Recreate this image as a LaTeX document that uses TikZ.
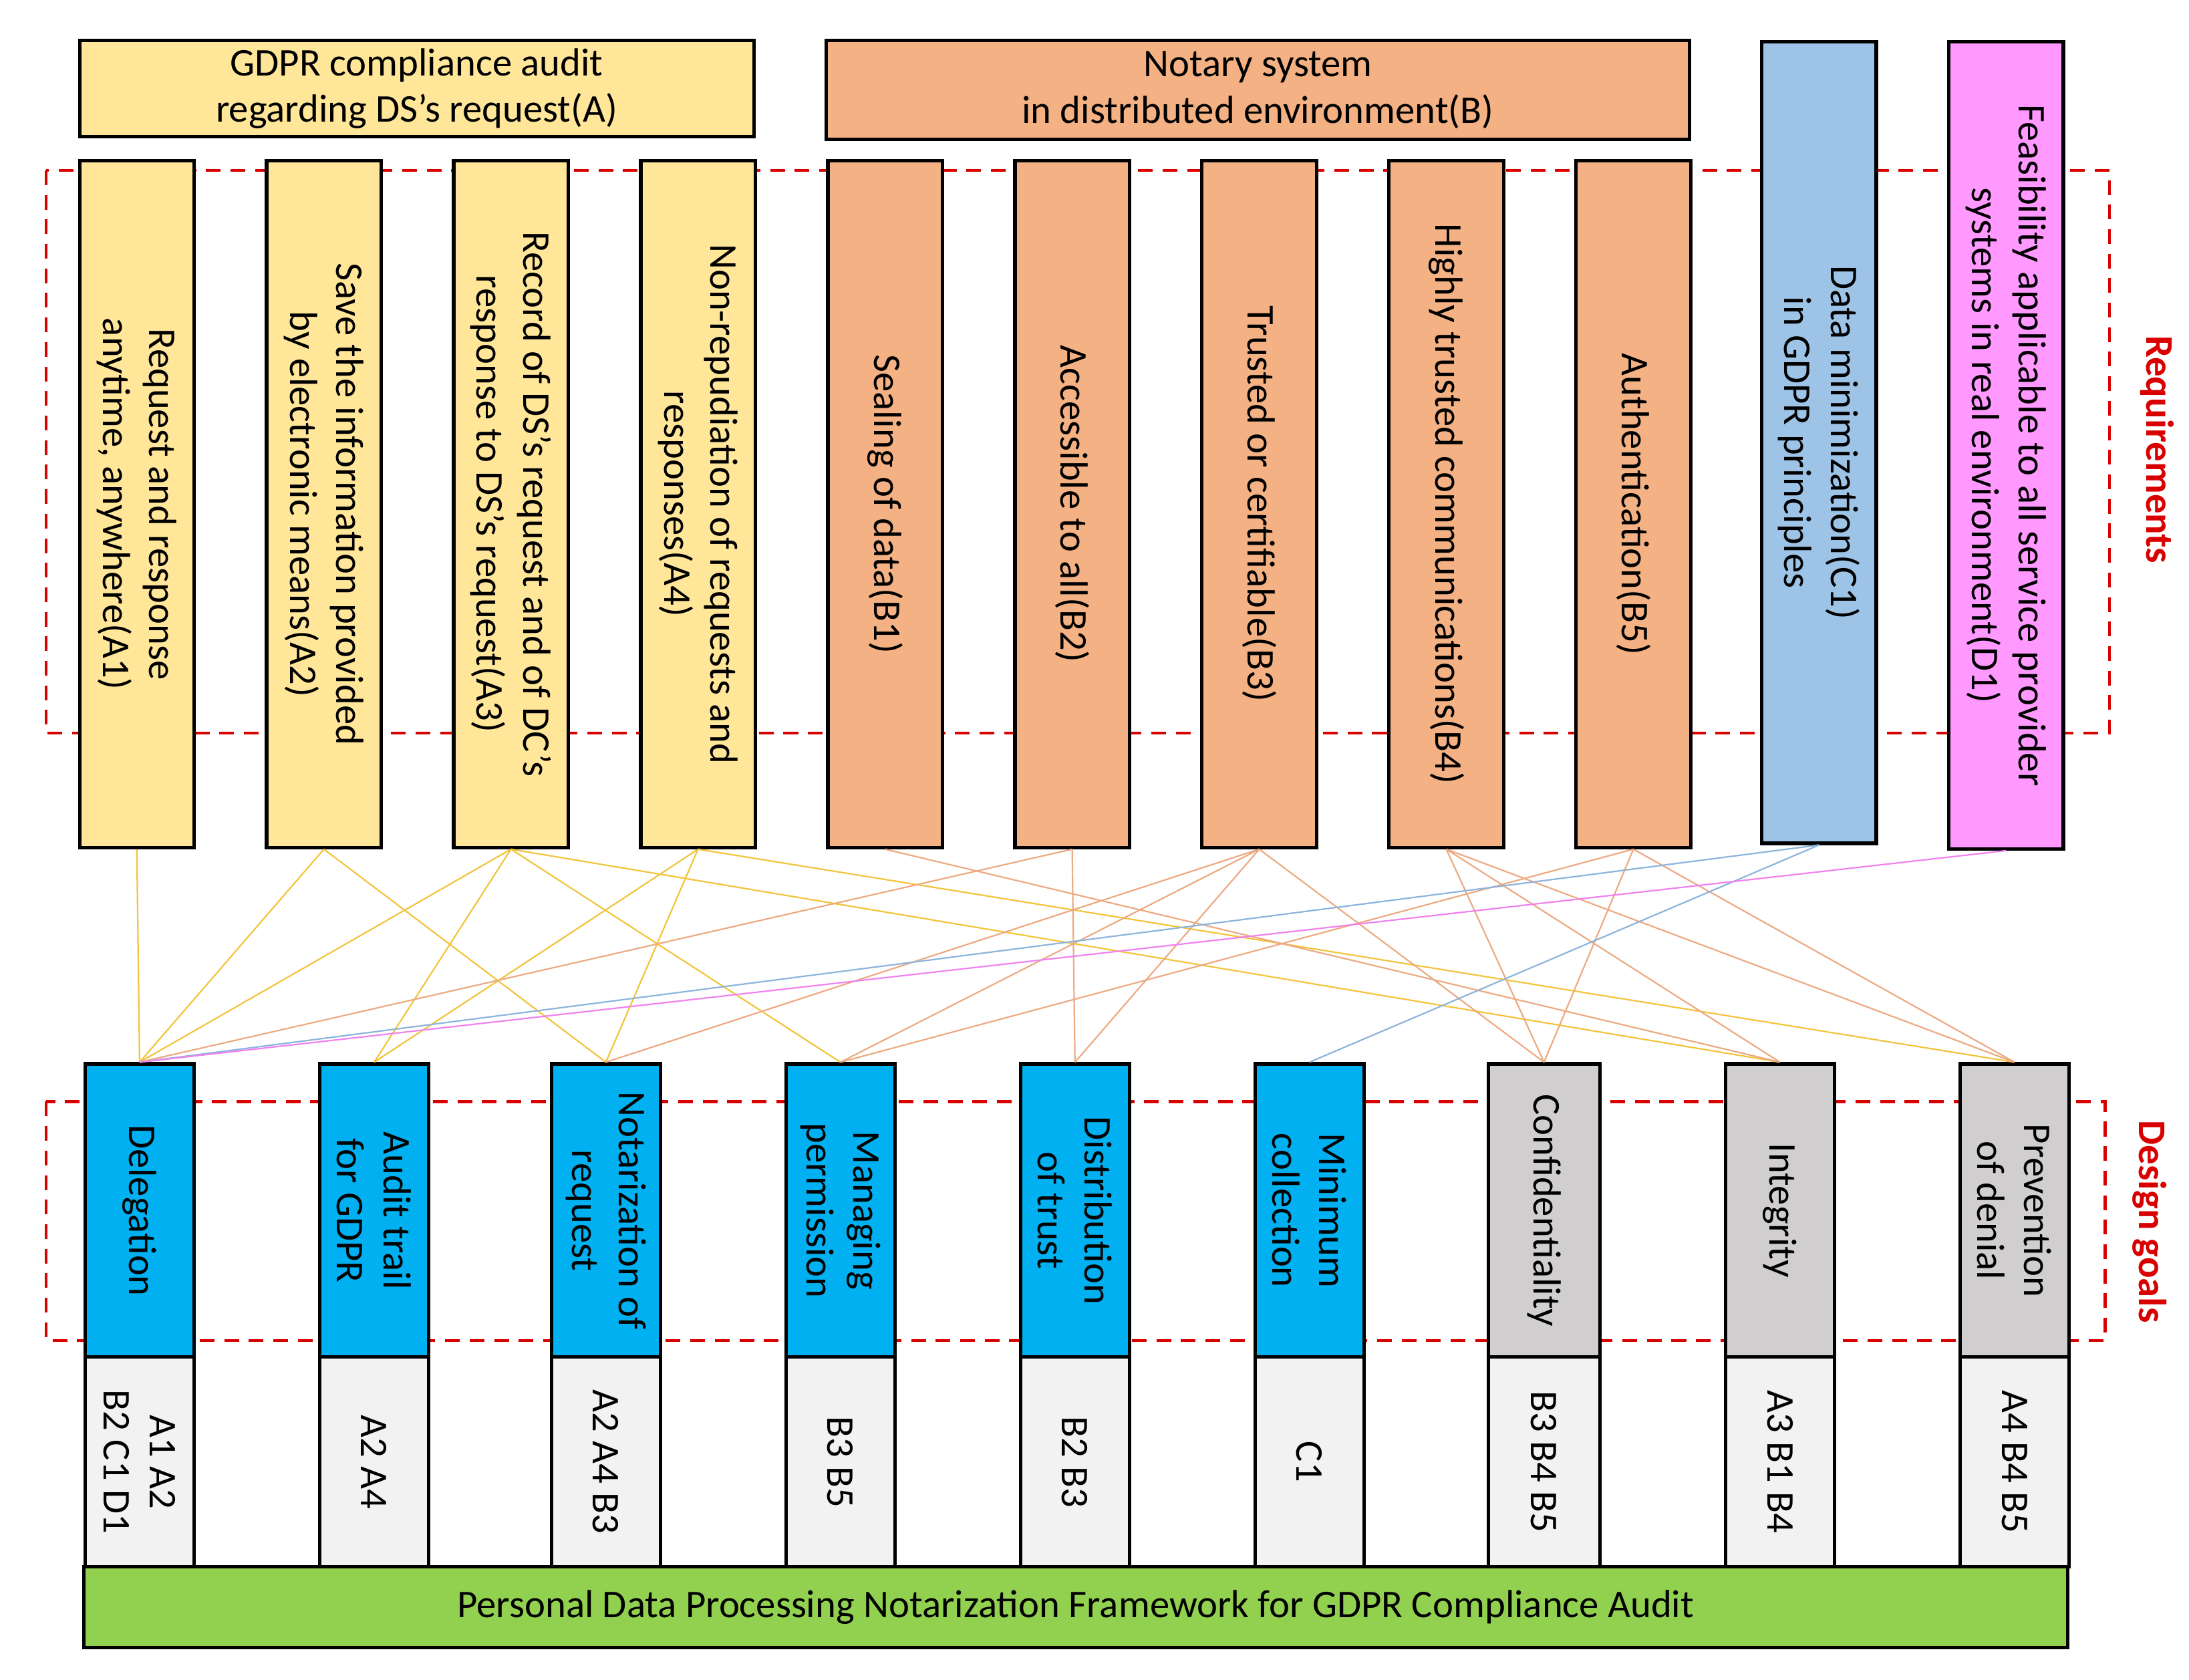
\documentclass[tikz,border=0pt]{standalone}
\usepackage{fontspec}
\setmainfont{Carlito}
\begin{document}
\begin{tikzpicture}[x=0.02cm,y=-0.02cm,
  bx/.style={draw=black,line width=1.4pt,inner sep=0pt},
  tx/.style={rotate=-90,align=center,font=\fontsize{16}{19}\selectfont},
  yl/.style={draw={rgb,255:red,242;green,196;blue,60},line width=0.6pt},
  ol/.style={draw={rgb,255:red,236;green,170;blue,130},line width=0.6pt},
  bl/.style={draw={rgb,255:red,140;green,180;blue,220},line width=0.6pt},
  pl/.style={draw={rgb,255:red,240;green,130;blue,240},line width=0.6pt},
  rd/.style={draw=red!85!black,line width=1.2pt,dash pattern=on 6pt off 4pt}]
\definecolor{cA}{RGB}{255,230,153}
\definecolor{cB}{RGB}{244,177,131}
\definecolor{cC}{RGB}{157,195,230}
\definecolor{cD}{RGB}{255,153,255}
\definecolor{cG}{RGB}{0,176,240}
\definecolor{cY}{RGB}{208,206,206}
\definecolor{cL}{RGB}{242,242,242}
\definecolor{cN}{RGB}{146,208,80}
\useasboundingbox (0,0) rectangle (1568,1203);
\newcommand\bx[7]{\node[bx,fill=#2,minimum width=#5*0.02cm,minimum height=#6*0.02cm] (#1) at (#3,#4) {}; \node[tx] at (#1) {#7};}
% dashed frames
\draw[rd] (33,122) rectangle (1511,525);
\draw[rd] (33,789) rectangle (1508,960);
\node[tx,text=red!85!black,font=\fontsize{16}{19}\selectfont\bfseries] (rq) at (1545,322) {Requirements};
\node[tx,text=red!85!black,font=\fontsize{16}{19}\selectfont\bfseries] (dg) at (1540,875) {Design goals};
% headers
\node[bx,fill=cA,minimum width=483*0.02cm,minimum height=69*0.02cm,align=center,font=\fontsize{16}{19}\selectfont] (HA) at (298.5,63.5) {GDPR compliance audit\\regarding DS's request(A)};
\node[bx,fill=cB,minimum width=618*0.02cm,minimum height=71*0.02cm,align=center,font=\fontsize{16}{19}\selectfont] (HB) at (901,64.5) {Notary system\\in distributed environment(B)};
% requirements
\bx{A1}{cA}{98}{361}{82}{492}{Request and response\\anytime, anywhere(A1)}
\bx{A2}{cA}{232}{361}{82}{492}{Save the information provided\\by electronic means(A2)}
\bx{A3}{cA}{366}{361}{82}{492}{Record of DS's request and of DC's\\response to DS's request(A3)}
\bx{A4}{cA}{500}{361}{82}{492}{Non-repudiation of requests and\\responses(A4)}
\bx{B1}{cB}{634}{361}{82}{492}{Sealing of data(B1)}
\bx{B2}{cB}{768}{361}{82}{492}{Accessible to all(B2)}
\bx{B3}{cB}{902}{361}{82}{492}{Trusted or certifiable(B3)}
\bx{B4}{cB}{1036}{361}{82}{492}{Highly trusted communications(B4)}
\bx{B5}{cB}{1170}{361}{82}{492}{Authentication(B5)}
\bx{C1}{cC}{1303}{317}{82}{574}{Data minimization(C1)\\in GDPR principles}
\bx{D1}{cD}{1437}{319}{82}{578}{Feasibility applicable to all service provider\\systems in real environment(D1)}
% goals
\bx{G1}{cG}{100}{867}{78}{210}{Delegation}
\bx{G2}{cG}{268}{867}{78}{210}{Audit trail\\for GDPR}
\bx{G3}{cG}{434}{867}{78}{210}{Notarization of\\request}
\bx{G4}{cG}{602}{867}{78}{210}{Managing\\permission}
\bx{G5}{cG}{770}{867}{78}{210}{Distribution\\of trust}
\bx{G6}{cG}{938}{867}{78}{210}{Minimum\\collection}
\bx{G7}{cY}{1106}{867}{80}{210}{Confidentiality}
\bx{G8}{cY}{1275}{867}{78}{210}{Integrity}
\bx{G9}{cY}{1443}{867}{78}{210}{Prevention\\of denial}
% codes
\bx{K1}{cL}{100}{1047}{78}{150}{A1 A2\\B2 C1 D1}
\bx{K2}{cL}{268}{1047}{78}{150}{A2 A4}
\bx{K3}{cL}{434}{1047}{78}{150}{A2 A4 B3}
\bx{K4}{cL}{602}{1047}{78}{150}{B3 B5}
\bx{K5}{cL}{770}{1047}{78}{150}{B2 B3}
\bx{K6}{cL}{938}{1047}{78}{150}{C1}
\bx{K7}{cL}{1106}{1047}{80}{150}{B3 B4 B5}
\bx{K8}{cL}{1275}{1047}{78}{150}{A3 B1 B4}
\bx{K9}{cL}{1443}{1047}{78}{150}{A4 B4 B5}
\node[bx,fill=cN,minimum width=1421*0.02cm,minimum height=58*0.02cm,font=\fontsize{16}{19}\selectfont] (F) at (770.5,1151) {Personal Data Processing Notarization Framework for GDPR Compliance Audit};
% connectors
\draw[yl] (A1.south) -- (G1.north);
\draw[yl] (A2.south) -- (G1.north);
\draw[yl] (A2.south) -- (G3.north);
\draw[yl] (A3.south) -- (G1.north);
\draw[yl] (A3.south) -- (G2.north);
\draw[yl] (A3.south) -- (G4.north);
\draw[yl] (A3.south) -- (G8.north);
\draw[yl] (A4.south) -- (G2.north);
\draw[yl] (A4.south) -- (G3.north);
\draw[yl] (A4.south) -- (G9.north);
\draw[ol] (B1.south) -- (G8.north);
\draw[ol] (B2.south) -- (G1.north);
\draw[ol] (B2.south) -- (G5.north);
\draw[ol] (B3.south) -- (G3.north);
\draw[ol] (B3.south) -- (G4.north);
\draw[ol] (B3.south) -- (G5.north);
\draw[ol] (B3.south) -- (G7.north);
\draw[ol] (B4.south) -- (G7.north);
\draw[ol] (B4.south) -- (G8.north);
\draw[ol] (B4.south) -- (G9.north);
\draw[ol] (B5.south) -- (G4.north);
\draw[ol] (B5.south) -- (G7.north);
\draw[ol] (B5.south) -- (G9.north);
\draw[bl] (C1.south) -- (G1.north);
\draw[bl] (C1.south) -- (G6.north);
\draw[pl] (D1.south) -- (G1.north);
\end{tikzpicture}
\end{document}
